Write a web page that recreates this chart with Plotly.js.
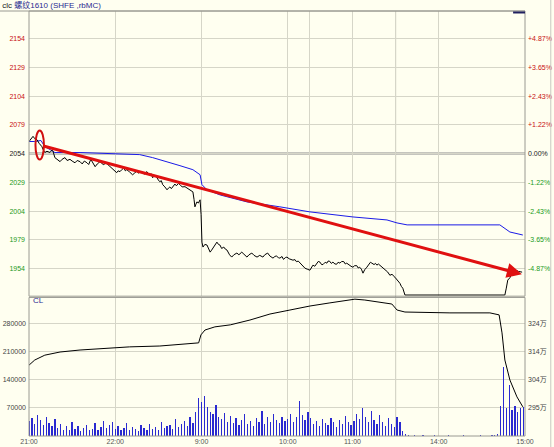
<!DOCTYPE html>
<html><head><meta charset="utf-8">
<script src="https://cdn.plot.ly/plotly-3.0.1.min.js"></script>
<style>html,body{margin:0;padding:0;background:#fffff0}#c{width:554px;height:447px}</style>
</head><body><div id="c"></div>
<script>
// ---- data (x = trading-minute index from 21:00, sessions joined) ----
const prevSettle = 2054;
const priceMin = [0,1.5,2.8,4,5.6,7,9,10,11,12.5,14.6,16,16.7,18,19.5,21.6,23,25,26.5,28.5,30,32,33.5,35.5,37,38.5,40.3,41.5,43,44.5,46,47.5,49.4,50.5,52,53.5,55,56.5,57.7,59,61,62,63.3,64.5,66,67,68,70,72,73.5,75,76,77,78.5,80,81,82,83,84,85,86,87.5,88.5,90,91,92,93,94.5,96,97,98,99,100,101.5,102.5,104,105,106.5,108.5,110,112,113,114,114.8,115.4,116.1,116.8,117.8,119,119.7,120.3,
  121,122.3,123.8,125,126,127,128,129.3,130.7,131.8,132.8,134,135.5,136.5,137.7,139.5,141,142.5,144.6,146,148,149.5,151.6,153,155,156.5,158.6,160.5,162.7,164,166,167.5,169.7,171,172,173.5,174.5,176,177,178.3,179.4,181,183.6,185,186,187.3,188.5,190,192,193.5,195.4,196.3,197.5,198.8,200,201.2,202.4,203.5,204.5,206,207.2,208,209,210.3,211.4,212.8,214,215,216.3,217.5,219,220,221,222,223,224,225.3,226.5,228,229,230,231.2,232.3,233.5,235,236.5,237.5,238.5,240,241,242,243,244,245.5,246.5,247.6,249.5,251,252.5,254.5,256,258,259,260,261.5,331,332,333,334.5,336,337.3,338.7,340.5,343];
const priceVal = [2064.5,2067,2069,2067,2066,2063,2060,2057,2055,2056,2055,2057,2056,2050.5,2049,2047,2049,2050.5,2048,2049,2047.5,2046,2048,2047,2045,2047.5,2046,2044.5,2049,2046,2042.6,2045,2047,2045.5,2044.4,2046,2044.4,2043,2041.5,2040,2037.4,2039,2038.3,2040,2041.5,2039,2040,2038,2035.6,2037,2039,2037,2037.4,2038.5,2036,2037.5,2038.3,2036.5,2035.5,2036.5,2033,2035,2034,2031,2029.5,2030.5,2027,2025,2022.5,2024,2025,2023.5,2025.2,2027.5,2026,2028,2027,2025,2025.2,2024,2022.5,2021,2020.7,2014,2007.7,2010,2012,2011,2013.8,2001,1977,
  1972.7,1975,1974.5,1971,1968.3,1970,1971.8,1975,1977,1975,1974.5,1971.5,1972.7,1971,1970.1,1966,1964,1966,1967.5,1966,1968.3,1966.5,1964,1966,1967.5,1965.5,1964,1965.5,1964,1966,1967.5,1965,1963.1,1964.5,1965,1963.5,1963.1,1964.5,1962,1963.5,1964,1962.5,1961.3,1961.8,1960,1960.5,1958.7,1957,1954.3,1953.5,1952.6,1954.5,1957,1956,1958,1960.2,1959.6,1957.5,1957.5,1959.5,1958.7,1960.5,1960.5,1958.5,1959.6,1958,1957.8,1959.5,1958.7,1960.2,1960,1958,1958.7,1957.5,1957,1956,1955.2,1956.5,1956.5,1954.5,1955.2,1953.5,1950,1953,1955.2,1957.5,1959.5,1958.7,1957.5,1958.5,1957,1958,1957,1955.5,1954.5,1952.6,1951,1948.2,1949,1946.5,1944.5,1941.2,1938.5,1936.9,1931,1931,1937,1944,1946,1950,1949.5,1952.6,1951.5,1950.9];
const avgMin = [0,4,8.3,11,14.6,18,35.5,63,77,86,96,105,114,119,120.3,123.8,133,151.6,174.5,195.4,225.3,249,256,263,327.5,334.5,343.5];
const avgVal = [2064.5,2064.5,2065.4,2060,2057.5,2054.9,2054.9,2054,2053.1,2050.5,2047,2043.5,2040,2035.6,2027,2022.5,2018,2012,2007.7,2003.3,1998.9,1996.3,1993.7,1992,1992,1985.8,1983.2];
const oiMin = [0,4,11,21.6,35.5,49.4,70,91,112,118,119.6,122.4,129.3,140,153.7,167.6,181.5,195.4,209.3,220,226.7,233.6,244,252.4,256,261.5,292.8,320.6,327,329,331,334.5,339.4,343.5];
const oiVal = [310.0,311.8,313.5,314.6,315.3,315.7,316.4,316.7,317.4,317.8,320.6,322.3,323.4,324.1,325.8,327.9,329.3,330.7,331.8,332.5,333.1,332.8,332.1,331.4,329.3,328.6,328.3,328.3,327.6,321.3,311.8,304.8,298.9,295.4];
const volStep = 2; // one bar per two trading minutes
const volK = [38,45,30,52,40,28,47,33,25,42,20,30,16,24,14,35,18,26,12,20,28,15,18,32,16,22,38,20,27,34,
  18,25,14,20,33,16,22,18,12,28,20,14,30,17,22,15,35,20,24,28,18,42,22,30,38,25,48,33,60,95,
  85,100,72,60,55,78,48,42,58,36,50,32,45,28,40,55,30,38,26,44,35,62,30,48,36,54,40,33,47,38,
  42,56,35,48,88,52,40,60,
  45,30,38,25,42,33,28,46,35,22,40,30,50,36,27,
  38,55,42,70,48,35,62,40,30,52,36,25,45,30,22,
  48,35,
  12,4,2,1,2,1,1,2,1,1,1,2,1,1,1,1,2,1,1,1,1,2,1,1,1,1,1,2,1,1,1,2,3,5,
  75,172,70,127,65,75,60,70,72];
const timeTickMin = [0,60,120,180,195,225,255,285,345];
const timeTickText = ['21:00','22:00','9:00','10:00','','11:00','','14:00','15:00'];
const priceTicks = [1954,1979,2004,2029,2054,2079,2104,2129,2154];
const volTicks = [70000,140000,210000,280000];
const oiTicks = [295.0,304.8,314.6,324.4];
const oiTickText = ['295万','304万','314万','324万'];
const title1 = 'clc';
const title2 = '螺纹1610 (SHFE ,rbMC)';

// ---- derived ----
const RED = '#c81010', GREEN = '#1a9a1a', TXT = '#444';
const col = p => p > prevSettle ? RED : (p < prevSettle ? GREEN : '#222');
const priceText = priceTicks.map(p => `<span style="color:${col(p)}">${p}</span>`);
const pctVals = priceTicks.map(p => (p / prevSettle - 1) * 100);
const pctText = priceTicks.map((p, i) => {
  const v = pctVals[i];
  const s = (v > 0 ? '+' : (v < 0 ? '-' : '')) + Math.abs(v).toFixed(2) + '%';
  return `<span style="color:${col(p)}">${s}</span>`;
});
const pRange = [1930, 2178];
const pctRange = pRange.map(p => (p / prevSettle - 1) * 100);
const volX = volK.map((v, i) => i * volStep);
const volY = volK.map(v => v * 1000);

const F = 'Liberation Sans, Arial, Noto Sans CJK SC, sans-serif';
const tf = {family: F, size: 7, color: TXT};
const GRID = '#d6d6c8';
const priceDom = [0.329, 1], lowDom = [0, 0.326];

const traces = [
  {type:'bar', x: volX, y: volY, xaxis:'x', yaxis:'y3', width: 0.9, marker:{color:'#2a2ad0', line:{width:0}}, hoverinfo:'skip'},
  {type:'scatter', mode:'lines', x: oiMin, y: oiVal, xaxis:'x', yaxis:'y4', line:{color:'#000', width:1}, hoverinfo:'skip'},
  {type:'scatter', mode:'lines', x: avgMin, y: avgVal, xaxis:'x', yaxis:'y', line:{color:'#1a1ae6', width:1}, hoverinfo:'skip'},
  {type:'scatter', mode:'lines', x: priceMin, y: priceVal, xaxis:'x', yaxis:'y', line:{color:'#000', width:1}, hoverinfo:'skip'},
  {type:'scatter', mode:'markers', x:[0], y:[0], xaxis:'x', yaxis:'y2', marker:{opacity:0}, hoverinfo:'skip'}
];

const layout = {
  width: 554, height: 447,
  margin: {l: 29, r: 29, t: 11, b: 11},
  paper_bgcolor: '#fffff0', plot_bgcolor: '#fffff0',
  showlegend: false, hovermode: false, bargap: 0,
  font: {family: F, size: 7, color: TXT},
  title: {text: `<span style="color:#222">${title1}</span> <span style="color:#2a2a90">${title2}</span>`,
          x: 0.004, xanchor: 'left', y: 0.989, yanchor: 'middle', font: {family: F, size: 8}},
  xaxis: {domain:[0,1], range:[0,345], anchor:'y3', tickvals: timeTickMin, ticktext: timeTickText,
          showgrid:true, gridcolor: GRID, gridwidth:1, zeroline:false, showline:false, ticks:'',
          tickfont: {family: F, size: 7, color: '#555'}, ticklabelstandoff: 0},
  yaxis: {domain: priceDom, range: pRange, tickvals: priceTicks, ticktext: priceText,
          showgrid:true, gridcolor: GRID, zeroline:false, ticks:'', tickfont: tf, ticklabelstandoff: 3},
  yaxis2: {overlaying:'y', side:'right', range: pctRange, tickvals: pctVals, ticktext: pctText,
          showgrid:false, zeroline:false, ticks:'', tickfont: tf, ticklabelstandoff: 2},
  yaxis3: {domain: lowDom, range:[0, 346000], tickvals: volTicks, ticktext: volTicks.map(String),
          showgrid:true, gridcolor: GRID, zeroline:false, ticks:'', tickfont: tf, ticklabelstandoff: 2},
  yaxis4: {overlaying:'y3', side:'right', range:[285.2, 333.7], tickvals: oiTicks, ticktext: oiTickText,
          showgrid:false, zeroline:false, ticks:'', tickfont: tf, ticklabelstandoff: 2},
  shapes: [
    {type:'line', xref:'paper', yref:'y', x0:0, x1:1, y0:prevSettle, y1:prevSettle, line:{color:'#8c8c8c', width:2}, layer:'below'},
    {type:'line', xref:'x', yref:'paper', x0:255, x1:255, y0:0, y1:1, line:{color:'#a8a8a0', width:1}, layer:'below'},
    {type:'rect', xref:'paper', yref:'paper', x0:0, x1:1, y0:priceDom[0], y1:1, line:{color:'#9a9a92', width:1}},
    {type:'rect', xref:'paper', yref:'paper', x0:0, x1:1, y0:0, y1:lowDom[1], line:{color:'#9a9a92', width:1}},
    {type:'line', xref:'paper', yref:'paper', x0:-0.06, x1:1, y0:1, y1:1, line:{color:'#9a9a92', width:1}},
    {type:'line', xref:'paper', yref:'paper', x0:1.052, x1:1.052, y0:-0.03, y1:1.03, line:{color:'#c8c8c0', width:1}},
    {type:'line', xref:'paper', yref:'paper', x0:0.976, x1:1, y0:0.9965, y1:0.9965, line:{color:'#202060', width:2}},
    {type:'circle', xref:'x', yref:'y', x0:4.5, x1:10.4, y0:2048.8, y1:2074, line:{color:'#d01010', width:2}}
  ],
  annotations: [
    {xref:'x', yref:'y', axref:'x', ayref:'y', x:342.8, y:1949, ax:9, ay:2061, text:'', showarrow:true,
     arrowhead:2, arrowsize:1, arrowwidth:3, arrowcolor:'#e01010', standoff:0, startstandoff:0},
    {xref:'paper', yref:'paper', x:0.004, y:0.318, xanchor:'left', yanchor:'middle', text:'CL', showarrow:false,
     font:{family:F, size:8, color:'#2a2a90'}}
  ]
};
Plotly.newPlot('c', traces, layout, {staticPlot:true, displayModeBar:false});
</script>
</body></html>
